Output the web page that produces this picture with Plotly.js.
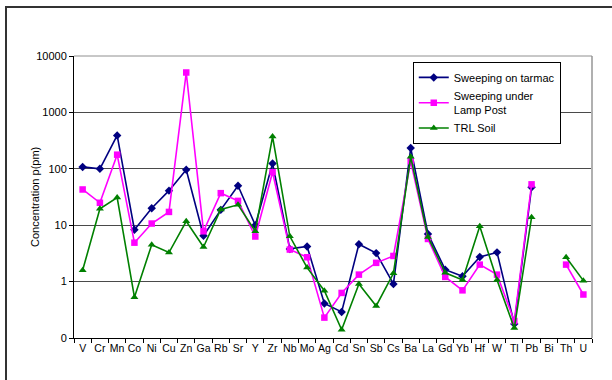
<!DOCTYPE html>
<html>
<head>
<meta charset="utf-8">
<script src="https://cdn.plot.ly/plotly-3.0.1.min.js"></script>
<style>
html,body{margin:0;padding:0;background:#fff;width:612px;height:380px;overflow:hidden;}
#frame{position:absolute;left:5px;top:6px;width:700px;height:500px;border-left:2px solid #333;border-top:2px solid #333;}
#chart{position:absolute;left:0;top:0;width:612px;height:380px;}
</style>
</head>
<body>
<div id="frame"></div>
<div id="chart"></div>
<script>
const categories = ['V','Cr','Mn','Co','Ni','Cu','Zn','Ga','Rb','Sr','Y','Zr','Nb','Mo','Ag','Cd','Sn','Sb','Cs','Ba','La','Gd','Yb','Hf','W','Tl','Pb','Bi','Th','U'];
const tarmac = [108,100,390,8.3,20,41,96,6.5,18.7,50,10,124,3.8,4.2,0.41,0.29,4.6,3.2,0.91,234,7.0,1.63,1.24,2.74,3.3,0.178,47,null,null,null];
const lampPost = [43,25,178,4.9,10.7,17.2,5100,7.8,37,27,6.3,87,3.7,2.7,0.23,0.63,1.33,2.15,2.85,136,5.7,1.21,0.70,2.0,1.33,0.20,53,null,2.0,0.59];
const trlSoil = [1.59,19.5,31,0.53,4.5,3.27,11.7,4.1,19,23,7.8,372,6.35,1.77,0.69,0.14,0.91,0.37,1.4,163,6.2,1.43,1.07,9.6,1.07,0.15,13.8,null,2.7,1.04];
const seriesNames = ['Sweeping on tarmac','Sweeping under<br>Lamp Post','TRL Soil'];
const yTickVals = [0.1,1,10,100,1000,10000];
const yTickText = ['0','1','10','100','1000','10000'];
const yTitle = 'Concentration p(pm)';

const font = {family:'"Liberation Sans", Arial, sans-serif', size:11, color:'#000'};

const traces = [
  {x:categories, y:tarmac, name:seriesNames[0], type:'scatter', mode:'lines+markers',
   line:{color:'#000080', width:1.6}, marker:{symbol:'diamond', size:6.5, color:'#000080'}, connectgaps:false},
  {x:categories, y:lampPost, name:seriesNames[1], type:'scatter', mode:'lines+markers',
   line:{color:'#ff00ff', width:1.6}, marker:{symbol:'square', size:6.5, color:'#ff00ff'}, connectgaps:false},
  {x:categories, y:trlSoil, name:seriesNames[2], type:'scatter', mode:'lines+markers',
   line:{color:'#008000', width:1.6}, marker:{symbol:'triangle-up', size:7, color:'#008000'}, connectgaps:false}
];

const layout = {
  width:612, height:380,
  margin:{l:74, r:20, t:56, b:42},
  paper_bgcolor:'rgba(0,0,0,0)', plot_bgcolor:'rgba(0,0,0,0)',
  font:font,
  showlegend:true,
  legend:{x:0.654, y:0.979, xanchor:'left', yanchor:'top', bgcolor:'#fff', bordercolor:'#000', borderwidth:1,
          font:{family:font.family, size:11, color:'#000'}, tracegroupgap:0, itemwidth:30},
  xaxis:{type:'category', range:[-0.5, categories.length - 0.5], showline:true, linecolor:'#000', linewidth:1,
         ticks:'outside', ticklen:4, tickcolor:'#000', tickson:'boundaries', showgrid:false, zeroline:false, tickangle:0,
         tickfont:{family:font.family, size:10.5, color:'#000'}, fixedrange:true},
  yaxis:{type:'log', range:[-1,4], tickvals:yTickVals, ticktext:yTickText, showline:true, linecolor:'#000',
         linewidth:1, ticks:'outside', ticklen:4, tickcolor:'#000', showgrid:true, gridcolor:'#4a4a4a',
         gridwidth:1, zeroline:false, tickfont:{family:font.family, size:11, color:'#000'}},
  annotations:[
    {text:yTitle, xref:'paper', yref:'paper', x:-0.0753, y:0.5, textangle:-90, showarrow:false,
     xanchor:'center', yanchor:'middle', font:{family:font.family, size:11, color:'#000'}}
  ],
  shapes:[
    {type:'line', xref:'paper', yref:'paper', x0:1, x1:1, y0:0, y1:1, line:{color:'#b0b0b0', width:2}},
    {type:'line', xref:'paper', yref:'paper', x0:0, x1:1, y0:1, y1:1, line:{color:'#909090', width:1}}
  ]
};

Plotly.newPlot('chart', traces, layout, {staticPlot:true, displayModeBar:false});
</script>
</body>
</html>
